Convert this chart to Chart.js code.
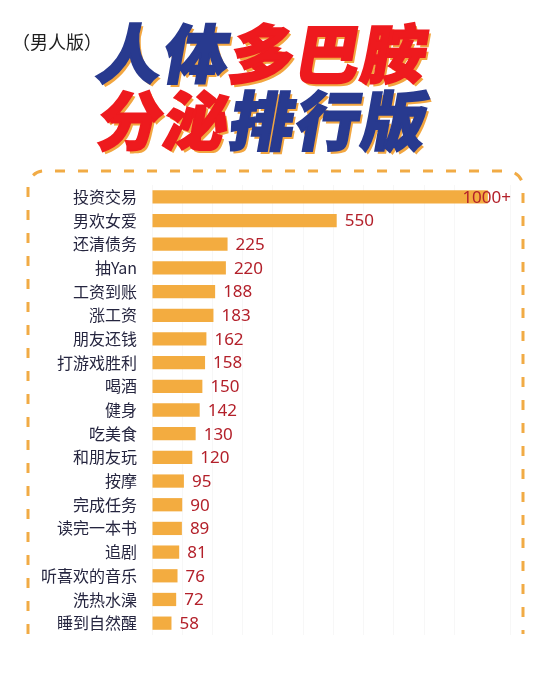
<!DOCTYPE html>
<html>
<head>
<meta charset="utf-8">
<script src="https://cdn.jsdelivr.net/npm/chart.js@4"></script>
<style>
  html, body { margin: 0; padding: 0; background: #fff; }
  #page { position: relative; width: 553px; height: 676px; overflow: hidden; }
  #chart { position: absolute; left: 0; top: 0; }
  .sub { position: absolute; left: 12px; top: 28px; font: 18px "Noto Sans CJK SC"; color: #1e1e1e; }
  .big {
    position: absolute; left: 94px; font: 900 64px/1 "Noto Sans CJK SC";
    letter-spacing: 2px; transform: skewX(-10deg); transform-origin: left bottom;
    -webkit-text-stroke: 2px; text-shadow: 3px 3px 0 #f2a640; white-space: nowrap;
  }
  .blue { color: #283a8f; }
  .red { color: #ee1a1e; }
</style>
</head>
<body>
<div id="page">
  <canvas id="chart" width="553" height="676"></canvas>
  <div class="sub">（男人版）</div>
  <div class="big" style="top:18px"><span class="blue">人体</span><span class="red">多巴胺</span></div>
  <div class="big" style="top:85px"><span class="red">分泌</span><span class="blue">排行版</span></div>
</div>
<script>
// data
var activities = [
  "投资交易", "男欢女爱", "还清债务", "抽Yan", "工资到账", "涨工资",
  "朋友还钱", "打游戏胜利", "喝酒", "健身", "吃美食", "和朋友玩",
  "按摩", "完成任务", "读完一本书", "追剧", "听喜欢的音乐", "洗热水澡", "睡到自然醒"
];
var dopamine = [1000, 550, 225, 220, 188, 183, 162, 158, 150, 142, 130, 120, 95, 90, 89, 81, 76, 72, 58];
var valueLabels = ["1000+", "550", "225", "220", "188", "183", "162", "158", "150", "142", "130", "120", "95", "90", "89", "81", "76", "72", "58"];

// dashed orange frame, open at the bottom
var framePlugin = {
  id: "frame",
  beforeDraw(chart) {
    var ctx = chart.ctx;
    var l = 28, t = 171, r = 523, b = 634, rad = 16;
    ctx.save();
    ctx.strokeStyle = "#f1ab45";
    ctx.lineWidth = 3;
    ctx.setLineDash([10, 13]);
    ctx.beginPath();
    ctx.moveTo(l, b);
    ctx.lineTo(l, t + rad);
    ctx.arcTo(l, t, l + rad, t, rad);
    ctx.lineTo(r - rad, t);
    ctx.arcTo(r, t, r, t + rad, rad);
    ctx.lineTo(r, b);
    ctx.stroke();
    ctx.restore();
  }
};

// value numbers after each bar
var valuePlugin = {
  id: "values",
  afterDatasetsDraw(chart) {
    var ctx = chart.ctx;
    var meta = chart.getDatasetMeta(0);
    ctx.save();
    ctx.font = "17px 'Noto Sans', 'DejaVu Sans', sans-serif";
    ctx.fillStyle = "#b3202a";
    ctx.textBaseline = "middle";
    meta.data.forEach(function (bar, i) {
      var txt = valueLabels[i];
      var w = ctx.measureText(txt).width;
      var x = Math.min(bar.x + 8, 511 - w);
      ctx.fillText(txt, x, bar.y + 1);
    });
    ctx.restore();
  }
};

new Chart("chart", {
  type: "bar",
  data: {
    labels: activities,
    datasets: [
      {
        data: dopamine,
        backgroundColor: "#f3ac40",
        barPercentage: 0.56,
        categoryPercentage: 1,
      },
    ],
  },
  options: {
    indexAxis: "y",
    responsive: false,
    animation: false,
    layout: { padding: { top: 185, bottom: 41, right: 43, left: 0 } },
    scales: {
      x: {
        min: 0,
        max: 1066,
        ticks: { display: false, stepSize: 90 },
        grid: { color: "#f7f7f7", drawTicks: false },
        border: { display: false },
      },
      y: {
        afterFit(scale) { scale.width = 152; },
        ticks: { color: "#25253f", padding: 15, font: { size: 16, family: "'Noto Sans CJK SC'" } },
        grid: { display: false, drawTicks: false },
        border: { display: false },
      },
    },
    plugins: {
      legend: { display: false },
      tooltip: { enabled: false },
    },
  },
  plugins: [framePlugin, valuePlugin],
});
</script>
</body>
</html>
